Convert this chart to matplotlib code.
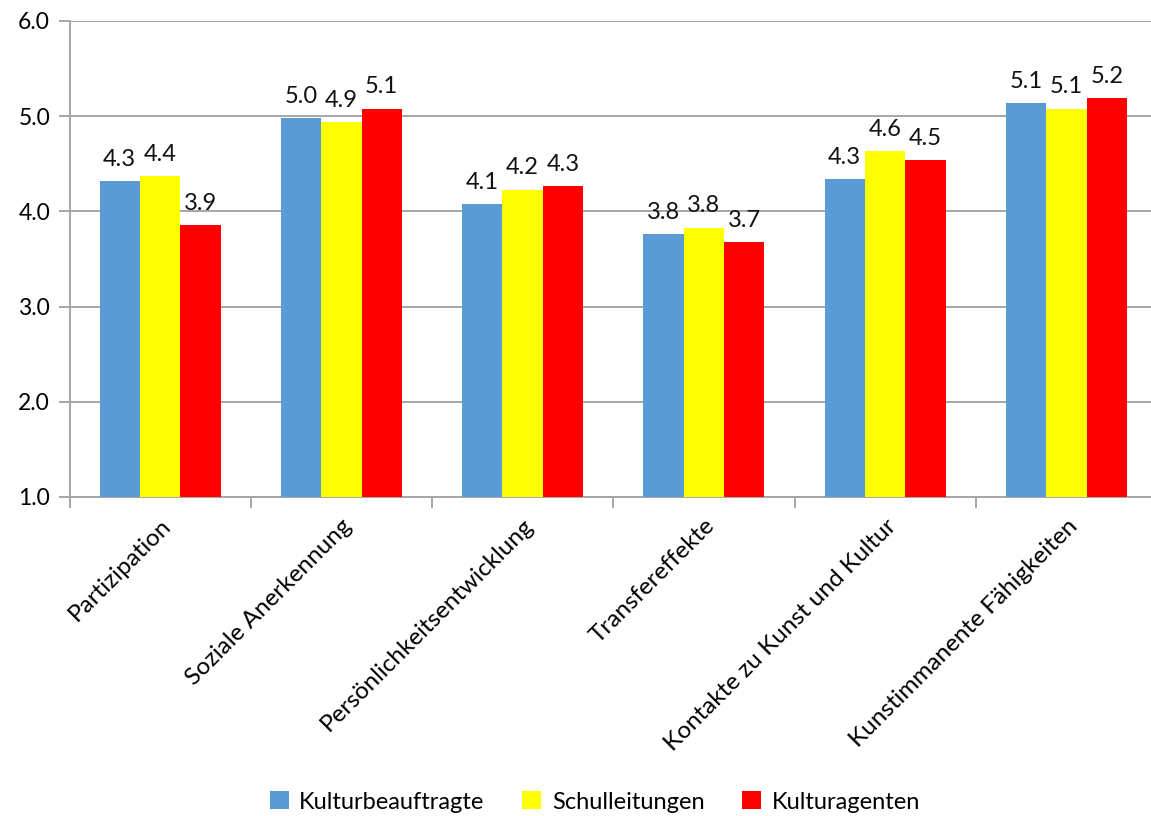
import numpy as np
import matplotlib
matplotlib.use("Agg")
import matplotlib.pyplot as plt

plt.rcParams['font.family'] = ['Lato', 'DejaVu Sans']

# Mean ratings per dimension and respondent group
categories = ['Partizipation', 'Soziale Anerkennung', 'Persönlichkeitsentwicklung',
              'Transfereffekte', 'Kontakte zu Kunst und Kultur', 'Kunstimmanente Fähigkeiten']
kulturbeauftragte = [4.32, 4.98, 4.08, 3.76, 4.34, 5.14]
schulleitungen = [4.37, 4.94, 4.23, 3.83, 4.63, 5.08]
kulturagenten = [3.86, 5.08, 4.27, 3.68, 4.54, 5.19]

series = [('Kulturbeauftragte', kulturbeauftragte, '#5B9BD5'),
          ('Schulleitungen', schulleitungen, '#FFFF00'),
          ('Kulturagenten', kulturagenten, '#FF0000')]

fig = plt.figure(figsize=(11.51, 8.16), dpi=100)
ax = fig.add_axes([69.5 / 1151, 1 - 497 / 816, 1087.5 / 1151, 476 / 816])

x = np.arange(len(categories))
width = 0.2225
base = 1.0
grid_col = '#a6a6a6'

for i, (name, vals, col) in enumerate(series):
    pos = x + (i - 1) * width
    heights = np.array(vals) - base
    ax.bar(pos, heights, width, bottom=base, color=col, label=name, zorder=3)
    for xp, v in zip(pos, vals):
        ax.annotate(f'{v:.1f}', (xp, v), xytext=(0, 8), textcoords='offset points',
                    ha='center', va='bottom', fontsize=17, color='#111111')

ax.set_xlim(-0.5, len(categories) - 0.5)
ax.set_ylim(1.0, 6.0)
ax.set_yticks(np.arange(1.0, 6.01, 1.0))
ax.set_yticklabels([f'{t:.1f}' for t in np.arange(1.0, 6.01, 1.0)], fontsize=16.5)
ax.yaxis.grid(True, color=grid_col, linewidth=1.4, zorder=0)

# x ticks sit between groups, labels centred under each group
ax.set_xticks(np.arange(-0.5, len(categories) + 0.5, 1.0))
ax.set_xticklabels([])
ax.set_xticks(x, minor=True)
ax.set_xticklabels(categories, minor=True, rotation=45, ha='right',
                   rotation_mode='anchor', fontsize=17.5)
ax.tick_params(axis='x', which='minor', length=0, pad=13)
ax.tick_params(axis='x', which='major', length=8, color=grid_col, width=1.4)
ax.tick_params(axis='y', length=8, color=grid_col, width=1.4, pad=6)

for s in ['top', 'right']:
    ax.spines[s].set_visible(False)
for s in ['left', 'bottom']:
    ax.spines[s].set_color(grid_col)
    ax.spines[s].set_linewidth(1.4)

fig.legend(loc='center', bbox_to_anchor=(595 / 1151, 1 - 802 / 816), ncol=3,
           frameon=False, fontsize=17, handlelength=0.8, handleheight=0.8,
           columnspacing=1.6, handletextpad=0.45)

fig.savefig('out.png', dpi=100)
